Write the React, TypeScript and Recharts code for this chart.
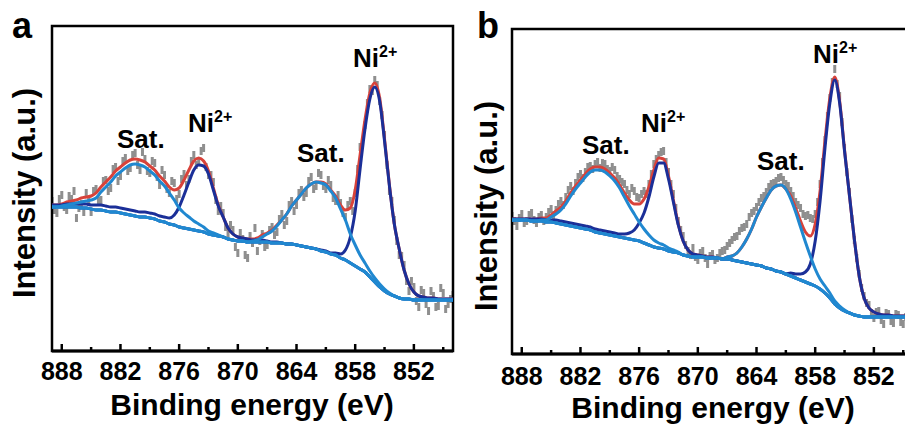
import React from 'react';
import { LineChart, Line, XAxis, YAxis, ReferenceArea } from 'recharts';

// binding energy grid (eV) for the fitted curves, high -> low
const energy = [
  889, 888.5, 888, 887.5, 887, 886.5, 886, 885.5, 885, 884.5,
  884, 883.5, 883, 882.5, 882, 881.5, 881, 880.5, 880, 879.5,
  879, 878.5, 878, 877.5, 877, 876.5, 876, 875.5, 875, 874.5,
  874, 873.5, 873, 872.5, 872, 871.5, 871, 870.5, 870, 869.5,
  869, 868.5, 868, 867.5, 867, 866.5, 866, 865.5, 865, 864.5,
  864, 863.5, 863, 862.5, 862, 861.5, 861, 860.5, 860, 859.5,
  859, 858.5, 858, 857.5, 857, 856.5, 856, 855.5, 855, 854.5,
  854, 853.5, 853, 852.5, 852, 851.5, 851, 850.5, 850, 849.5,
  849, 848.5, 848,
];

// binding energy grid (eV) for the measured points
const rawEnergy = [
  889, 888.75, 888.5, 888.25, 888, 887.75, 887.5, 887.25, 887, 886.75,
  886.5, 886.25, 886, 885.75, 885.5, 885.25, 885, 884.75, 884.5, 884.25,
  884, 883.75, 883.5, 883.25, 883, 882.75, 882.5, 882.25, 882, 881.75,
  881.5, 881.25, 881, 880.75, 880.5, 880.25, 880, 879.75, 879.5, 879.25,
  879, 878.75, 878.5, 878.25, 878, 877.75, 877.5, 877.25, 877, 876.75,
  876.5, 876.25, 876, 875.75, 875.5, 875.25, 875, 874.75, 874.5, 874.25,
  874, 873.75, 873.5, 873.25, 873, 872.75, 872.5, 872.25, 872, 871.75,
  871.5, 871.25, 871, 870.75, 870.5, 870.25, 870, 869.75, 869.5, 869.25,
  869, 868.75, 868.5, 868.25, 868, 867.75, 867.5, 867.25, 867, 866.75,
  866.5, 866.25, 866, 865.75, 865.5, 865.25, 865, 864.75, 864.5, 864.25,
  864, 863.75, 863.5, 863.25, 863, 862.75, 862.5, 862.25, 862, 861.75,
  861.5, 861.25, 861, 860.75, 860.5, 860.25, 860, 859.75, 859.5, 859.25,
  859, 858.75, 858.5, 858.25, 858, 857.75, 857.5, 857.25, 857, 856.75,
  856.5, 856.25, 856, 855.75, 855.5, 855.25, 855, 854.75, 854.5, 854.25,
  854, 853.75, 853.5, 853.25, 853, 852.75, 852.5, 852.25, 852, 851.75,
  851.5, 851.25, 851, 850.75, 850.5, 850.25, 850, 849.75, 849.5, 849.25,
  849, 848.75, 848.5, 848.25, 848,
];

// ---- panel a ----
const bgA = [
  144, 144, 144, 144, 144, 144, 143, 143, 142, 141,
  141, 140, 139, 139, 138, 137, 136, 135, 134, 134,
  133, 132, 130, 129, 127, 126, 124, 123, 122, 121,
  120, 119, 117, 116, 115, 114, 112, 111, 110, 110,
  109, 109, 109, 109, 109, 108, 108, 108, 107, 107,
  106, 105, 104, 103, 102, 100, 99, 97, 96, 93,
  91, 88, 85, 82, 79, 74, 69, 64, 60, 57,
  55, 53, 52, 52, 51, 51, 51, 51, 51, 51,
  51, 51, 51,
];
const sat1A = [
  0, 0, 1, 2, 3, 4, 6, 7, 9, 12,
  18, 24, 30, 36, 41, 46, 50, 52, 52, 50,
  47, 44, 40, 36, 31, 25, 19, 15, 12, 9,
  7, 5, 3, 2, 1, 0, 0, 0, 0, 0,
  0, 0, 0, 0, 0, 0, 0, 0, 0, 0,
  0, 0, 0, 0, 0, 0, 0, 0, 0, 0,
  0, 0, 0, 0, 0, 0, 0, 0, 0, 0,
  0, 0, 0, 0, 0, 0, 0, 0, 0, 0,
  0, 0, 0,
];
const ni1A = [
  2, 2, 2, 3, 3, 3, 4, 4, 4, 5,
  5, 5, 5, 5, 5, 5, 5, 5, 5, 5,
  5, 5, 5, 5, 6, 10, 20, 33, 47, 60,
  66, 66, 60, 45, 30, 20, 11, 6, 4, 3,
  3, 2, 2, 2, 1, 1, 1, 0, 0, 0,
  0, 0, 0, 0, 0, 0, 0, 0, 0, 0,
  0, 0, 0, 0, 0, 0, 0, 0, 0, 0,
  0, 0, 0, 0, 0, 0, 0, 0, 0, 0,
  0, 0, 0,
];
const sat2A = [
  0, 0, 0, 0, 0, 0, 0, 0, 0, 0,
  0, 0, 0, 0, 0, 0, 0, 0, 0, 0,
  0, 0, 0, 0, 0, 0, 0, 0, 0, 0,
  0, 0, 0, 0, 0, 0, 0, 0, 0, 0,
  0, 1, 2, 5, 8, 12, 17, 23, 30, 38,
  45, 52, 59, 64, 67, 68, 67, 63, 57, 49,
  40, 29, 21, 14, 9, 6, 4, 3, 2, 1,
  0, 0, 0, 0, 0, 0, 0, 0, 0, 0,
  0, 0, 0,
];
const ni2A = [
  0, 0, 0, 0, 0, 0, 0, 0, 0, 0,
  0, 0, 0, 0, 0, 0, 0, 0, 0, 0,
  0, 0, 0, 0, 0, 0, 0, 0, 0, 0,
  0, 0, 0, 0, 0, 0, 0, 0, 0, 0,
  0, 0, 0, 0, 0, 0, 0, 0, 0, 0,
  0, 0, 0, 0, 0, 1, 1, 1, 2, 4,
  10, 26, 55, 100, 143, 178, 195, 186, 150, 108,
  72, 49, 29, 15, 8, 4, 3, 2, 2, 1,
  1, 1, 1,
];
const rawA = [
  150, 141, 138, 152, 156, 144, 141, 155, 152, 160,
  133, 143, 147, 139, 158, 149, 139, 160, 162, 150,
  151, 170, 171, 160, 163, 182, 184, 170, 175, 190,
  193, 180, 183, 196, 198, 186, 181, 199, 192, 180,
  178, 190, 188, 174, 166, 181, 176, 162, 158, 170,
  168, 152, 157, 172, 177, 166, 172, 190, 196, 186,
  189, 200, 203, 184, 176, 176, 169, 151, 140, 145,
  138, 124, 118, 126, 121, 104, 98, 118, 112, 96,
  93, 115, 108, 123, 100, 110, 117, 104, 106, 121,
  124, 116, 119, 132, 137, 126, 130, 146, 150, 140,
  146, 158, 161, 154, 158, 170, 174, 162, 165, 178,
  176, 165, 162, 171, 166, 153, 150, 156, 148, 138,
  134, 146, 150, 140, 158, 182, 204, 210, 226, 248,
  262, 260, 271, 266, 250, 236, 216, 186, 160, 150,
  131, 110, 96, 95, 86, 70, 60, 70, 64, 50,
  44, 61, 58, 47, 40, 60, 55, 44, 45, 63,
  58, 42, 47, 52, 56,
];

// ---- panel b ----
const bgB = [
  134, 134, 134, 134, 133, 133, 133, 132, 132, 131,
  130, 129, 128, 127, 126, 125, 124, 122, 121, 120,
  119, 118, 117, 116, 115, 114, 113, 111, 109, 107,
  106, 105, 103, 102, 101, 99, 98, 97, 97, 97,
  96, 96, 96, 95, 95, 94, 93, 92, 91, 90,
  89, 88, 86, 85, 83, 82, 80, 78, 76, 74,
  72, 70, 68, 65, 61, 56, 50, 46, 43, 41,
  39, 38, 37, 37, 37, 37, 37, 37, 37, 37,
  37, 37, 37,
];
const sat1B = [
  0, 0, 0, 0, 0, 0, 1, 2, 5, 9,
  14, 21, 30, 38, 45, 52, 58, 62, 63, 62,
  59, 55, 49, 41, 33, 26, 19, 14, 10, 7,
  5, 4, 3, 2, 1, 0, 0, 0, 0, 0,
  0, 0, 0, 0, 0, 0, 0, 0, 0, 0,
  0, 0, 0, 0, 0, 0, 0, 0, 0, 0,
  0, 0, 0, 0, 0, 0, 0, 0, 0, 0,
  0, 0, 0, 0, 0, 0, 0, 0, 0, 0,
  0, 0, 0,
];
const ni1B = [
  1, 1, 1, 1, 2, 2, 2, 2, 2, 3,
  3, 3, 3, 3, 3, 3, 3, 3, 3, 3,
  3, 3, 3, 4, 6, 10, 18, 30, 48, 70,
  85, 86, 72, 50, 28, 14, 6, 3, 2, 1,
  1, 1, 0, 0, 0, 0, 0, 0, 0, 0,
  0, 0, 0, 0, 0, 0, 0, 0, 0, 0,
  0, 0, 0, 0, 0, 0, 0, 0, 0, 0,
  0, 0, 0, 0, 0, 0, 0, 0, 0, 0,
  0, 0, 0,
];
const sat2B = [
  0, 0, 0, 0, 0, 0, 0, 0, 0, 0,
  0, 0, 0, 0, 0, 0, 0, 0, 0, 0,
  0, 0, 0, 0, 0, 0, 0, 0, 0, 0,
  0, 0, 0, 0, 0, 0, 0, 0, 0, 0,
  0, 0, 0, 0, 2, 4, 8, 15, 24, 35,
  48, 59, 70, 79, 85, 87, 85, 77, 66, 53,
  40, 28, 17, 10, 7, 5, 3, 2, 1, 0,
  0, 0, 0, 0, 0, 0, 0, 0, 0, 0,
  0, 0, 0,
];
const ni2B = [
  0, 0, 0, 0, 0, 0, 0, 0, 0, 0,
  0, 0, 0, 0, 0, 0, 0, 0, 0, 0,
  0, 0, 0, 0, 0, 0, 0, 0, 0, 0,
  0, 0, 0, 0, 0, 0, 0, 0, 0, 0,
  0, 0, 0, 0, 0, 0, 0, 0, 0, 0,
  0, 0, 0, 0, 0, 0, 0, 3, 4, 6,
  10, 20, 45, 88, 145, 195, 224, 205, 160, 118,
  76, 40, 19, 9, 5, 3, 2, 2, 1, 1,
  1, 1, 1,
];
const rawB = [
  138, 133, 128, 136, 140, 131, 133, 139, 141, 134,
  131, 137, 139, 133, 137, 142, 145, 139, 144, 150,
  153, 149, 157, 164, 168, 163, 171, 177, 180, 176,
  182, 187, 188, 185, 190, 192, 186, 191, 190, 185,
  183, 187, 184, 178, 175, 172, 170, 164, 160, 166,
  163, 157, 156, 160, 163, 160, 170, 180, 190, 195,
  199, 202, 203, 192, 182, 170, 160, 146, 133, 124,
  118, 109, 103, 99, 106, 97, 94, 101, 103, 96,
  90, 98, 100, 94, 96, 101, 103, 104, 108, 111,
  114, 117, 118, 123, 126, 127, 130, 137, 141, 143,
  147, 152, 156, 158, 162, 167, 170, 171, 173, 176,
  177, 174, 170, 168, 163, 158, 152, 149, 146, 140,
  138, 139, 136, 135, 140, 152, 170, 192, 214, 238,
  256, 272, 285, 270, 258, 232, 206, 182, 162, 135,
  114, 96, 80, 66, 58, 51, 49, 41, 36, 42,
  43, 34, 30, 41, 40, 33, 31, 40, 39, 32,
  30, 37, 38, 31, 33,
];

const majorTicks = [888, 882, 876, 870, 864, 858, 852];
const minorTicks = [885, 879, 873, 867, 861, 855, 849];
const allTicks = [...majorTicks, ...minorTicks].sort((a, b) => b - a);

const FONT = '"Liberation Sans", Arial, Helvetica, sans-serif';
const RED = '#d8423a';
const NAVY = '#1b2f98';
const SKY = '#2088d0';
const GRAY = '#8f8f8f';

function buildRows(bg: number[], s1: number[], n1: number[], s2: number[], n2: number[]) {
  return energy.map((e, i) => ({
    e,
    bg: bg[i],
    sat1: bg[i] + s1[i],
    ni1: bg[i] + n1[i],
    sat2: bg[i] + s2[i],
    ni2: bg[i] + n2[i],
    fit: bg[i] + s1[i] + n1[i] + s2[i] + n2[i],
  }));
}

const rowsA = buildRows(bgA, sat1A, ni1A, sat2A, ni2A);
const rowsB = buildRows(bgB, sat1B, ni1B, sat2B, ni2B);
const rawRowsA = rawEnergy.map((e, i) => ({ e, raw: rawA[i] }));
const rawRowsB = rawEnergy.map((e, i) => ({ e, raw: rawB[i] }));

function renderTick(props: any, labelDy: number) {
  const { x, y, payload } = props;
  const major = majorTicks.includes(payload.value);
  return (
    <g key={`t-${payload.value}`}>
      <line x1={x} x2={x} y1={y} y2={y - (major ? 7 : 4)} stroke="#000" strokeWidth={2.5} />
      {major && (
        <text x={x} y={y + labelDy} textAnchor="middle" fontSize={25} fontWeight="bold" fontFamily={FONT} fill="#000">
          {payload.value}
        </text>
      )}
    </g>
  );
}

// measured points are drawn as short vertical dashes
function renderDash(props: any) {
  const { cx, cy, index } = props;
  if (cx == null || cy == null) return <g key={`d-${index}`} />;
  return <rect key={`d-${index}`} x={cx - 1.5} y={cy - 4} width={3} height={8} fill={GRAY} />;
}

function Panel({ rows, rawRows, left, plotTop, axisH, labelDy }: any) {
  const line = { dot: false, activeDot: false, isAnimationActive: false, strokeWidth: 3 } as const;
  const margin = { top: plotTop, right: 7, bottom: 0, left: 52 };
  return (
    <div style={{ position: 'absolute', left, top: 0, width: 460, height: 430 }}>
      {/* measured data, underneath the fit */}
      <div style={{ position: 'absolute', left: 0, top: 0 }}>
        <LineChart width={460} height={430} data={rawRows} margin={margin}>
          <XAxis dataKey="e" type="number" domain={[848, 889]} reversed allowDataOverflow height={axisH} tick={false} tickLine={false} axisLine={false} />
          <YAxis hide domain={[0, 325]} allowDataOverflow />
          <Line dataKey="raw" type="linear" stroke="none" dot={renderDash} activeDot={false} isAnimationActive={false} />
        </LineChart>
      </div>
      {/* fitted components and frame */}
      <div style={{ position: 'absolute', left: 0, top: 0 }}>
        <LineChart width={460} height={430} data={rows} margin={margin}>
          <XAxis
            dataKey="e"
            type="number"
            domain={[848, 889]}
            reversed
            allowDataOverflow
            ticks={allTicks}
            interval={0}
            tickLine={false}
            tickSize={0}
            tickMargin={0}
            height={axisH}
            axisLine={{ stroke: '#000', strokeWidth: 3 }}
            tick={(p: any) => renderTick(p, labelDy)}
          />
          <YAxis hide domain={[0, 325]} allowDataOverflow />
          <ReferenceArea x1={889} x2={848} y1={0} y2={325} fill="none" stroke="#000" strokeWidth={2.5} ifOverflow="visible" />
          <Line dataKey="fit" type="monotone" stroke={RED} {...line} />
          <Line dataKey="ni1" type="monotone" stroke={NAVY} {...line} />
          <Line dataKey="ni2" type="monotone" stroke={NAVY} {...line} />
          <Line dataKey="sat1" type="monotone" stroke={SKY} {...line} />
          <Line dataKey="sat2" type="monotone" stroke={SKY} {...line} />
          <Line dataKey="bg" type="monotone" stroke={SKY} {...line} />
        </LineChart>
      </div>
    </div>
  );
}

function Ni({ x, y }: { x: number; y: number }) {
  return (
    <text x={x} y={y} fontSize={26} fontWeight="bold" fontFamily={FONT} fill="#000">
      Ni
      <tspan fontSize={16} dy={-10}>2+</tspan>
    </text>
  );
}

function Sat({ x, y }: { x: number; y: number }) {
  return (
    <text x={x} y={y} fontSize={26} fontWeight="bold" fontFamily={FONT} fill="#000">
      Sat.
    </text>
  );
}

export default function App() {
  const bold = { fontWeight: 'bold', fontFamily: FONT, fill: '#000' } as const;
  return (
    <div style={{ position: 'absolute', left: 0, top: 0, width: 905, height: 430, overflow: 'hidden', background: '#fff' }}>
      <Panel rows={rowsA} rawRows={rawRowsA} left={0} plotTop={26} axisH={79} labelDy={29} />
      <Panel rows={rowsB} rawRows={rawRowsB} left={460} plotTop={29} axisH={76} labelDy={31} />
      <svg width={905} height={430} style={{ position: 'absolute', left: 0, top: 0, pointerEvents: 'none' }}>
        <text x={22} y={38} textAnchor="middle" fontSize={36} {...bold}>a</text>
        <text x={488} y={38} textAnchor="middle" fontSize={36} {...bold}>b</text>
        <text transform="translate(35,193) rotate(-90)" textAnchor="middle" fontSize={31} {...bold}>Intensity (a.u.)</text>
        <text transform="translate(497,206) rotate(-90)" textAnchor="middle" fontSize={31} {...bold}>Intensity (a.u.)</text>
        <text x={252} y={415} textAnchor="middle" fontSize={30} {...bold}>Binding energy (eV)</text>
        <text x={713} y={418} textAnchor="middle" fontSize={30} {...bold}>Binding energy (eV)</text>
        <Sat x={117} y={148} />
        <Ni x={188} y={132} />
        <Sat x={297} y={162} />
        <Ni x={353} y={67} />
        <Sat x={582} y={154} />
        <Ni x={641} y={132} />
        <Sat x={757} y={170} />
        <Ni x={813} y={63} />
      </svg>
    </div>
  );
}
